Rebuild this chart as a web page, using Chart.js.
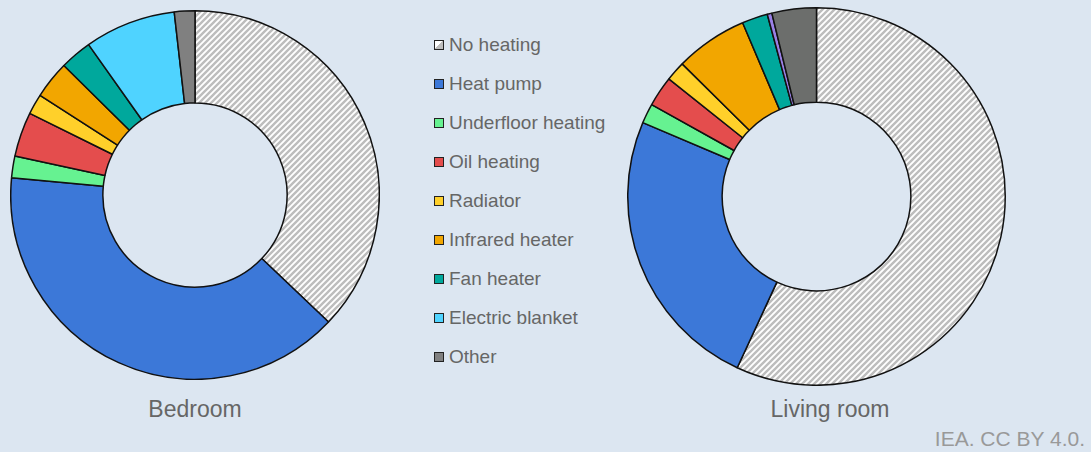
<!DOCTYPE html>
<html>
<head>
<meta charset="utf-8">
<script src="https://cdn.jsdelivr.net/npm/chart.js@4.4.0/dist/chart.umd.min.js"></script>
<style>
  body {
    margin: 0;
    width: 1091px;
    height: 452px;
    background: #dce6f1;
    font-family: 'Liberation Sans', Arial, sans-serif;
    overflow: hidden;
    position: relative;
  }
  canvas { position: absolute; }
  #bedroomChart { left: 10px; top: 10px; }
  #livingChart { left: 627px; top: 7px; }
  .chart-title {
    position: absolute;
    top: 396px;
    width: 300px;
    text-align: center;
    font-size: 23px;
    color: #666;
  }
  #legend {
    position: absolute;
    left: 434px;
    top: 32px;
  }
  .legend-item {
    height: 39px;
    font-size: 19px;
    color: #666;
    display: flex;
    align-items: flex-start;
    line-height: 26px;
  }
  .swatch {
    width: 8px;
    height: 8px;
    border: 1.5px solid #222;
    margin: 8px 5px 0 0;
  }
  #credit {
    position: absolute;
    right: 6px;
    top: 427px;
    font-size: 21px;
    color: #999;
  }
</style>
</head>
<body>
<canvas id="bedroomChart" width="370" height="370"></canvas>
<canvas id="livingChart" width="379" height="379"></canvas>
<div class="chart-title" style="left:45px">Bedroom</div>
<div class="chart-title" style="left:680px">Living room</div>
<div id="legend"></div>
<div id="credit">IEA. CC BY 4.0.</div>

<script>
// share of households (%) by main heating used
const categories = ['No heating', 'Heat pump', 'Underfloor heating', 'Oil heating', 'Radiator',
  'Infrared heater', 'Fan heater', 'Electric blanket', 'Other'];
const bedroomValues = [37.1, 39.4, 1.9, 3.9, 1.8, 3.3, 2.8, 8.0, 1.8];
const livingValues = [56.9, 24.5, 1.7, 2.6, 1.7, 6.2, 2.2, 0.4, 3.8];

const sliceColors = ['#ffffff', '#3c78d8', '#66f291', '#e44d4d', '#ffd02a',
  '#f2a600', '#00a89c', '#4fd3ff', '#808080'];
// living room draws the small blanket slice in purple and "other" darker
const livingColors = sliceColors.slice();
livingColors[7] = '#9a80e6';
livingColors[8] = '#6c6e6c';

function makeHatch() {
  const c = document.createElement('canvas');
  c.width = 6;
  c.height = 6;
  const g = c.getContext('2d');
  g.fillStyle = '#ffffff';
  g.fillRect(0, 0, 6, 6);
  g.strokeStyle = '#bdbdbd';
  g.lineWidth = 2.4;
  g.beginPath();
  g.moveTo(-3, 3); g.lineTo(3, -3);
  g.moveTo(0, 6); g.lineTo(6, 0);
  g.moveTo(3, 9); g.lineTo(9, 3);
  g.stroke();
  return g.createPattern(c, 'repeat');
}

function createDoughnut(id, values, colors) {
  const ctx = document.getElementById(id).getContext('2d');
  const bg = colors.slice();
  bg[0] = makeHatch();
  return new Chart(ctx, {
    type: 'doughnut',
    data: {
      labels: categories,
      datasets: [{
        data: values,
        backgroundColor: bg,
        borderColor: '#111',
        borderWidth: 1.5
      }]
    },
    options: {
      responsive: false,
      animation: false,
      cutout: '50%',
      layout: { padding: 0 },
      plugins: {
        legend: { display: false },
        tooltip: { enabled: false }
      }
    }
  });
}

function buildLegend() {
  const box = document.getElementById('legend');
  categories.forEach((name, i) => {
    const item = document.createElement('div');
    item.className = 'legend-item';
    const sw = document.createElement('div');
    sw.className = 'swatch';
    if (i === 0) {
      sw.style.background = 'linear-gradient(135deg, #ffffff 50%, #bdbdbd 50%)';
    } else {
      sw.style.background = sliceColors[i];
    }
    const label = document.createElement('span');
    label.textContent = name;
    item.appendChild(sw);
    item.appendChild(label);
    box.appendChild(item);
  });
}

buildLegend();
createDoughnut('bedroomChart', bedroomValues, sliceColors);
createDoughnut('livingChart', livingValues, livingColors);
</script>
</body>
</html>
